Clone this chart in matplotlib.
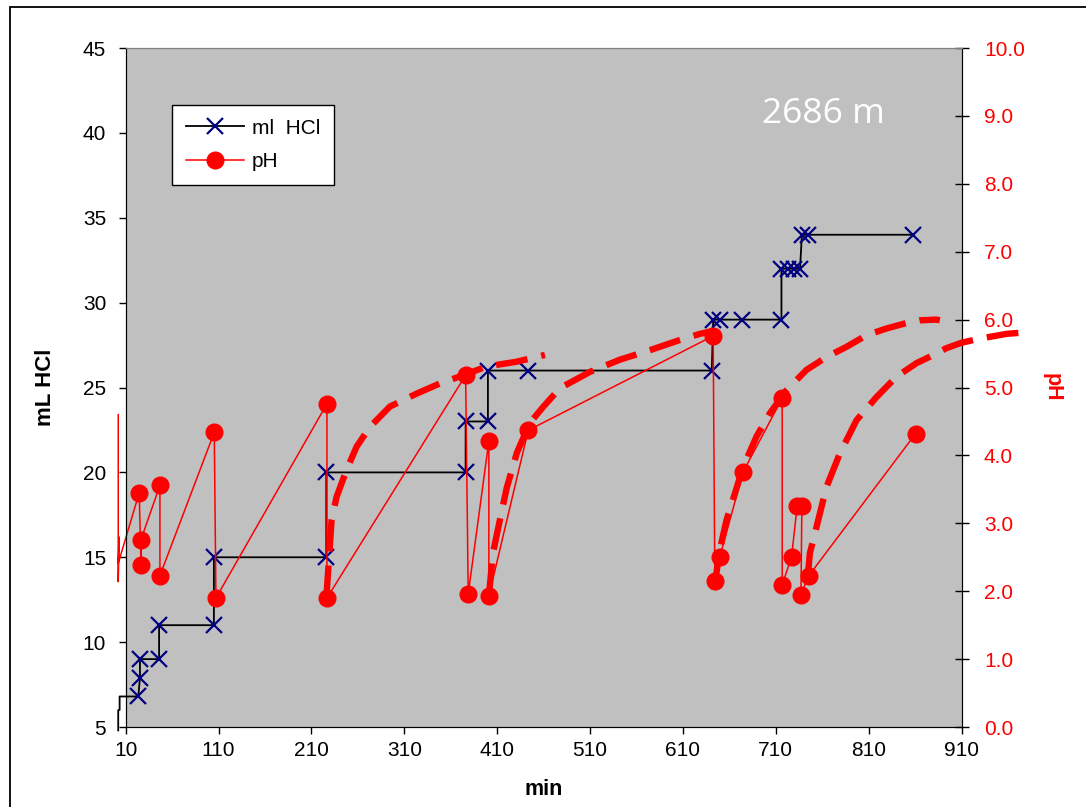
import matplotlib
matplotlib.use('Agg')
import matplotlib.pyplot as plt
from matplotlib.patches import Rectangle
from matplotlib.lines import Line2D

plt.rcParams['font.family'] = ['Liberation Sans', 'DejaVu Sans']

# ml HCl added over time (step series)
hcl_min = [2, 2, 3.5, 3.5, 23.6, 25.4, 25.4, 46, 46, 105, 105, 226, 226, 376, 376, 400, 400, 443,
           641, 642.5, 650, 673, 716, 716, 723, 730, 736, 738, 745, 858]
hcl_ml = [4.8, 6, 6, 6.8, 6.8, 7.9, 9, 9, 11, 11, 15, 15, 20, 20, 23, 23, 26, 26,
          26, 29, 29, 29, 29, 32, 32, 32, 32, 34, 34, 34]

# measured pH
ph_min = [2, 2, 3, 2, 24.6, 26.5, 26.5, 46.9, 46.9, 105.4, 107.2, 226.7, 226.7, 376, 378.8, 401, 401,
          443.4, 642.5, 644.3, 649.7, 674.8, 716.8, 716.8, 726.9, 733, 738, 737, 745.5, 860.4]
ph_val = [4.6, 2.14, 2.8, 2.41, 3.45, 2.38, 2.76, 3.56, 2.23, 4.34, 1.90, 4.76, 1.90, 5.18, 1.96, 4.21, 1.93,
          4.37, 5.76, 2.15, 2.51, 3.76, 4.84, 2.09, 2.51, 3.26, 3.26, 1.95, 2.23, 4.32]

# dashed recovery curves
c1_min = [226.1, 231.7, 237.1, 247.9, 258.7, 273.0, 294.5, 323.2, 348.3, 373.4, 398.6, 430.9, 461.4]
c1_ph = [1.91, 3.05, 3.39, 3.79, 4.13, 4.42, 4.72, 4.91, 5.06, 5.18, 5.31, 5.38, 5.48]
c2_min = [401.1, 405.4, 412.9, 420.4, 431.2, 445.2, 459.2, 477.5, 509.8, 542.1, 574.4, 606.7, 628.2, 641.1]
c2_ph = [1.94, 2.56, 3.05, 3.53, 4.04, 4.48, 4.71, 4.99, 5.23, 5.41, 5.55, 5.70, 5.79, 5.83]
c3_min = [643.3, 649.7, 656.9, 665.9, 674.8, 689.2, 703.5, 721.5, 743.0, 764.6, 786.1, 807.6, 829.2,
          850.7, 865.0, 883.0, 886.5]
c3_ph = [2.02, 2.61, 3.05, 3.44, 3.83, 4.28, 4.62, 4.96, 5.26, 5.45, 5.60, 5.77, 5.87, 5.95, 5.99, 6.00, 5.99]
c4_min = [744.5, 746.6, 753.8, 764.6, 778.9, 796.9, 818.4, 839.9, 861.5, 872.2, 893.7, 909.9, 929.6,
          958.3, 975.8, 983.3]
c4_ph = [2.24, 2.56, 2.95, 3.54, 4.03, 4.52, 4.86, 5.16, 5.36, 5.43, 5.58, 5.66, 5.72, 5.79, 5.81, 5.82]

x_ticks = list(range(10, 911, 100))
hcl_ticks = list(range(5, 46, 5))
ph_ticks = [i * 1.0 for i in range(0, 11)]

fig = plt.figure(figsize=(10.86, 8.07), dpi=100)
ax = fig.add_axes([0.1157, 0.0991, 0.7698, 0.8414])
ax.set_facecolor('#C0C0C0')
ax2 = ax.twinx()
ax2.patch.set_visible(False)

# HCl: line drawn unclipped, markers only inside the plot range
ax.plot(hcl_min, hcl_ml, color='black', lw=1.3, clip_on=False, zorder=2)
in_x = [m for m in hcl_min if m >= 10]
in_y = [v for m, v in zip(hcl_min, hcl_ml) if m >= 10]
ax.plot(in_x, in_y, ls='none', marker='x', ms=12, mew=1.6, color='#000080', zorder=3)

ax2.plot(ph_min, ph_val, color='red', lw=1.1, clip_on=False, zorder=2)
pin_x = [m for m in ph_min if m >= 10]
pin_y = [v for m, v in zip(ph_min, ph_val) if m >= 10]
ax2.plot(pin_x, pin_y, ls='none', marker='o', ms=12, color='red', mec='red', zorder=3)

for cx, cy in [(c1_min, c1_ph), (c2_min, c2_ph), (c3_min, c3_ph), (c4_min, c4_ph)]:
    ax2.plot(cx, cy, color='red', lw=4.6, ls=(0, (5, 2.2)), clip_on=False,
             solid_capstyle='butt', dash_capstyle='butt', zorder=4)

ax.set_xlim(10, 910)
ax.set_ylim(5, 45)
ax2.set_ylim(0, 10)
ax.set_xticks(x_ticks)
ax.set_yticks(hcl_ticks)
ax2.set_yticks(ph_ticks)
ax2.set_yticklabels([f'{t:.1f}' for t in ph_ticks])

ax.tick_params(axis='both', direction='out', length=5, width=1, labelsize=15)
ax.tick_params(axis='y', pad=9)
ax.tick_params(axis='x', pad=5)
ax2.tick_params(axis='y', direction='inout', length=10, width=1, labelsize=15, labelcolor='red', pad=11)

for a in (ax, ax2):
    a.spines['top'].set_color('#808080')
    a.spines['left'].set_color('black')
    a.spines['right'].set_color('black')
    a.spines['bottom'].set_color('black')

ax.set_xlabel('min', fontsize=15.5, fontweight='bold', labelpad=14)
ax.set_ylabel('mL HCl', fontsize=16, fontweight='bold', labelpad=19)
ax2.set_ylabel('pH', fontsize=15.5, fontweight='bold', color='red', rotation=270, labelpad=27)

ax.text(0.835, 0.890, '2686 m', transform=ax.transAxes, color='white', fontsize=25.5,
        family='Open Sans', ha='center', va='baseline')

handles = [Line2D([], [], color='black', lw=1.3, marker='x', ms=12, mew=1.6, mec='#000080'),
           Line2D([], [], color='red', lw=1.1, marker='o', ms=12)]
leg = ax2.legend(handles, ['ml  HCl', 'pH'], loc='upper left', bbox_to_anchor=(0.0554, 0.916),
                 borderaxespad=0, fancybox=False, framealpha=1, edgecolor='black',
                 fontsize=15, handlelength=2.8, borderpad=0.65, labelspacing=0.7, handletextpad=0.4)
leg.get_frame().set_linewidth(1.0)

fig.patches.append(Rectangle((10 / 1086, -0.05), 1.2, 1 - 7 / 807 + 0.05, transform=fig.transFigure,
                             fill=False, edgecolor='black', lw=1.3))

fig.savefig('out.png', dpi=100)
